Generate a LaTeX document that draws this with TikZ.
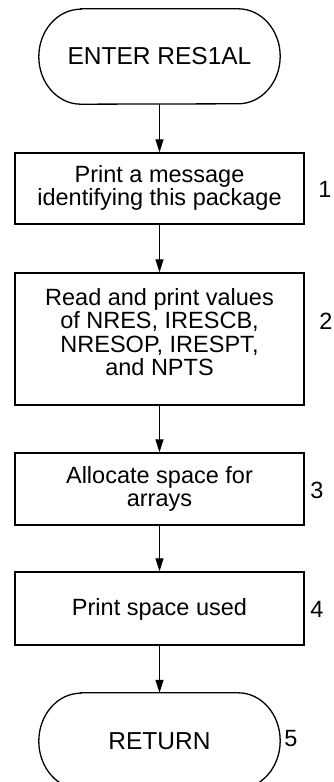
\documentclass[tikz,border=0pt]{standalone}
\usepackage{fontspec}
\setmainfont{Liberation Sans}
\usetikzlibrary{arrows.meta}
\tikzset{
  boxnode/.style={draw, line width=1.4pt, minimum width=289pt, inner sep=0pt},
  termnode/.style={draw=none, minimum width=241pt, inner sep=0pt},
  termline/.style={line width=1.3pt},
  txt/.style={align=center, inner sep=0pt, font=\fontsize{23.5}{23.5}\selectfont},
  ttxt/.style={align=center, inner sep=0pt, font=\fontsize{24.5}{24.5}\selectfont},
  numlab/.style={inner sep=0pt, font=\fontsize{23.5}{23.5}\selectfont},
  flow/.style={line width=1.2pt, -{Triangle[length=13pt,width=8pt]}}
}
\begin{document}
\begin{tikzpicture}[x=1pt,y=1pt]
\useasboundingbox (0,0) rectangle (333,782);
\clip (0,0) rectangle (333,782);
% terminals
\node[termnode, minimum height=95pt] (t0) at (159.5,725.5) {};
\node[ttxt] (t0t) at (159.5,725.5) {ENTER RES1AL};
\draw[termline] ([xshift=42pt]t0.north west) -- ([xshift=-42pt]t0.north east)
  arc[start angle=90, end angle=-90, x radius=42pt, y radius=47.5pt]
  -- ([xshift=42pt]t0.south west)
  arc[start angle=270, end angle=90, x radius=42pt, y radius=47.5pt] -- cycle;

\node[boxnode, minimum height=71pt] (b1) at (159.5,593.5) {};
\node[txt] (b1t) at (159.5,594) {Print a message\\identifying this package};

\node[boxnode, minimum height=132pt] (b2) at (159.5,443) {};
\node[txt] (b2t) at (159.5,450) {Read and print values\\of NRES, IRESCB,\\NRESOP, IRESPT,\\and NPTS};

\node[boxnode, minimum height=72pt] (b3) at (159.5,293) {};
\node[txt] (b3t) at (159.5,293) {Allocate space for\\arrays};

\node[boxnode, minimum height=73pt] (b4) at (159.5,173.5) {};
\node[txt] (b4t) at (159.5,173) {Print space used};

\node[termnode, minimum height=96pt] (t1) at (159.5,41) {};
\node[ttxt] (t1t) at (159.5,41) {RETURN};
\draw[termline] ([xshift=42pt]t1.north west) -- ([xshift=-42pt]t1.north east)
  arc[start angle=90, end angle=-90, x radius=42pt, y radius=48pt]
  -- ([xshift=42pt]t1.south west)
  arc[start angle=270, end angle=90, x radius=42pt, y radius=48pt] -- cycle;

% numbers
\node[numlab] (n1) at (325,593) {1};
\node[numlab] (n2) at (326,461) {2};
\node[numlab] (n3) at (317,292) {3};
\node[numlab] (n4) at (317,173) {4};
\node[numlab] (n5) at (291,43) {5};

% connectors
\draw[flow] (t0.south) -- (b1.north);
\draw[flow] (b1.south) -- (b2.north);
\draw[flow] (b2.south) -- (b3.north);
\draw[flow] (b3.south) -- (b4.north);
\draw[flow] (b4.south) -- (t1.north);
\end{tikzpicture}
\end{document}
